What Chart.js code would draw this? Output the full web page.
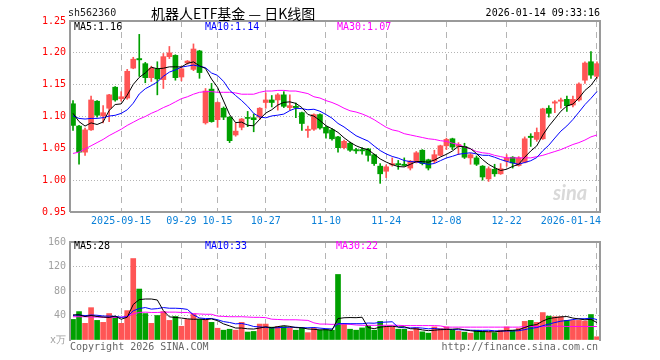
<!DOCTYPE html>
<html>
<head>
<meta charset="utf-8">
<script src="https://cdn.jsdelivr.net/npm/chart.js@4.4.1/dist/chart.umd.min.js"></script>
<style>
  body { margin: 0; width: 660px; height: 360px; overflow: hidden; position: relative; background: #fff;
         font-family: "DejaVu Sans Mono", monospace; font-size: 10px; }
  canvas { position: absolute; left: 0; }
  .t { position: absolute; white-space: nowrap; line-height: 12px; z-index: 2; }
</style>
</head>
<body>
<canvas id="kline" width="660" height="232" style="top:0"></canvas>
<canvas id="vol" width="660" height="128" style="top:232px"></canvas>

<div class="t" style="left:68px;top:7px;color:#222">sh562360</div>
<div class="t" style="left:151px;top:4px;line-height:18px;font-family:'Noto Sans CJK SC';font-size:14px;color:#000">机器人ETF基金 — 日K线图</div>
<div class="t" style="right:60px;top:7px;color:#000">2026-01-14 09:33:16</div>

<div class="t" style="left:74px;top:21px;color:#000">MA5:1.16</div>
<div class="t" style="left:205px;top:21px;color:#0000ff">MA10:1.14</div>
<div class="t" style="left:337px;top:21px;color:#ff00ff">MA30:1.07</div>

<div class="t" style="left:74px;top:240px;color:#000">MA5:28</div>
<div class="t" style="left:205px;top:240px;color:#0000ff">MA10:33</div>
<div class="t" style="left:336px;top:240px;color:#ff00ff">MA30:22</div>

<div class="t" style="left:70px;top:341px;color:#666">Copyright 2026 SINA.COM</div>
<div class="t" style="right:62px;top:341px;color:#666">http://finance.sina.com.cn</div>
<div class="t" style="left:553px;top:180px;line-height:20px;font:italic bold 20px Lato;color:#d9d9d9">sina</div>

<script>
// trading days shown
const dates = [
  '2025-09-03','2025-09-04','2025-09-05','2025-09-08','2025-09-09','2025-09-10','2025-09-11','2025-09-12',
  '2025-09-15','2025-09-16','2025-09-17','2025-09-18','2025-09-19','2025-09-22','2025-09-23','2025-09-24','2025-09-25','2025-09-26',
  '2025-09-29','2025-09-30','2025-10-09','2025-10-10','2025-10-13','2025-10-14',
  '2025-10-15','2025-10-16','2025-10-17','2025-10-20','2025-10-21','2025-10-22','2025-10-23','2025-10-24',
  '2025-10-27','2025-10-28','2025-10-29','2025-10-30','2025-10-31','2025-11-03','2025-11-04','2025-11-05','2025-11-06','2025-11-07',
  '2025-11-10','2025-11-11','2025-11-12','2025-11-13','2025-11-14','2025-11-17','2025-11-18','2025-11-19','2025-11-20','2025-11-21',
  '2025-11-24','2025-11-25','2025-11-26','2025-11-27','2025-11-28','2025-12-01','2025-12-02','2025-12-03','2025-12-04','2025-12-05',
  '2025-12-08','2025-12-09','2025-12-10','2025-12-11','2025-12-12','2025-12-15','2025-12-16','2025-12-17','2025-12-18','2025-12-19',
  '2025-12-22','2025-12-23','2025-12-24','2025-12-25','2025-12-26','2025-12-29','2025-12-30','2025-12-31',
  '2026-01-05','2026-01-06','2026-01-07','2026-01-08','2026-01-09','2026-01-12','2026-01-13','2026-01-14'
];

const tickDates = ['2025-09-15','2025-09-29','2025-10-15','2025-10-27','2025-11-10','2025-11-24','2025-12-08','2025-12-22','2026-01-14'];
const tickText  = ['2025-09-15','09-29','10-15','10-27','11-10','11-24','12-08','12-22','2026-01-14'];

const opens = [1.120,1.085,1.044,1.079,1.124,1.101,1.113,1.146,1.128,1.129,
  1.176,1.191,1.183,1.161,1.175,1.158,1.194,1.196,1.162,1.184,
  1.174,1.203,1.090,1.143,1.095,1.113,1.099,1.071,1.083,1.098,
  1.098,1.099,1.122,1.126,1.126,1.134,1.114,1.116,1.106,1.078,
  1.080,1.103,1.083,1.079,1.068,1.051,1.058,1.048,1.048,1.049,
  1.040,1.022,1.014,1.024,1.026,1.025,1.019,1.028,1.047,1.032,
  1.030,1.039,1.054,1.065,1.053,1.053,1.035,1.035,1.022,1.002,
  1.017,1.010,1.030,1.036,1.023,1.028,1.069,1.064,1.065,1.113,
  1.121,1.124,1.127,1.118,1.126,1.157,1.186,1.163];
const highs = [1.125,1.086,1.082,1.132,1.125,1.117,1.135,1.147,1.139,1.174,
  1.193,1.229,1.185,1.179,1.186,1.199,1.210,1.197,1.179,1.188,
  1.214,1.204,1.144,1.152,1.123,1.115,1.100,1.090,1.097,1.108,
  1.104,1.114,1.137,1.133,1.136,1.139,1.134,1.121,1.107,1.085,
  1.104,1.104,1.085,1.081,1.069,1.063,1.060,1.050,1.051,1.050,
  1.041,1.026,1.024,1.035,1.031,1.035,1.031,1.045,1.048,1.033,
  1.047,1.055,1.066,1.066,1.059,1.058,1.042,1.038,1.023,1.021,
  1.025,1.026,1.040,1.037,1.037,1.068,1.073,1.082,1.113,1.117,
  1.125,1.129,1.132,1.132,1.153,1.186,1.202,1.186];
const lows = [1.078,1.025,1.039,1.078,1.099,1.090,1.092,1.124,1.124,1.127,
  1.175,1.163,1.153,1.155,1.134,1.144,1.191,1.157,1.156,1.182,
  1.172,1.160,1.088,1.091,1.083,1.095,1.059,1.069,1.079,1.084,
  1.076,1.095,1.113,1.115,1.110,1.114,1.110,1.098,1.078,1.067,
  1.078,1.080,1.066,1.063,1.044,1.049,1.045,1.042,1.041,1.030,
  1.023,0.995,1.004,1.022,1.017,1.022,1.016,1.027,1.024,1.016,
  1.027,1.038,1.048,1.048,1.040,1.034,1.025,1.023,1.000,0.998,
  1.006,1.009,1.022,1.019,1.022,1.027,1.053,1.061,1.064,1.099,
  1.106,1.113,1.108,1.115,1.124,1.152,1.160,1.160];
const closes = [1.086,1.044,1.079,1.126,1.102,1.106,1.134,1.126,1.131,1.171,
  1.190,1.189,1.161,1.176,1.159,1.194,1.200,1.161,1.175,1.187,
  1.206,1.169,1.140,1.092,1.122,1.099,1.062,1.077,1.096,1.097,
  1.095,1.113,1.126,1.122,1.134,1.116,1.117,1.114,1.089,1.080,
  1.103,1.082,1.074,1.065,1.051,1.061,1.047,1.046,1.046,1.039,
  1.026,1.010,1.021,1.026,1.024,1.023,1.030,1.043,1.026,1.019,
  1.040,1.054,1.064,1.052,1.056,1.036,1.040,1.025,1.005,1.018,
  1.010,1.018,1.035,1.027,1.035,1.065,1.067,1.075,1.112,1.105,
  1.123,1.126,1.117,1.127,1.151,1.184,1.165,1.183];
// closes of the 9 sessions before the window (estimated from MA lines)
const closesBefore = [1.084,1.089,1.116,1.102,1.094,1.109,1.114,1.101,1.115];
// MA30 of price
const ma30 = [1.042,1.044,1.049,1.054,1.059,1.064,1.070,1.075,1.080,1.086,
  1.091,1.096,1.100,1.105,1.109,1.114,1.118,1.123,1.128,1.131,
  1.135,1.138,1.139,1.139,1.138,1.138,1.138,1.137,1.135,1.135,
  1.135,1.138,1.140,1.140,1.141,1.141,1.140,1.140,1.138,1.136,
  1.131,1.129,1.125,1.122,1.118,1.113,1.109,1.107,1.104,1.100,
  1.095,1.089,1.083,1.079,1.077,1.073,1.071,1.069,1.067,1.065,
  1.064,1.062,1.061,1.058,1.056,1.052,1.049,1.045,1.043,1.042,
  1.039,1.037,1.035,1.035,1.035,1.035,1.035,1.037,1.039,1.042,
  1.045,1.048,1.052,1.056,1.059,1.063,1.068,1.071];

// volume, 万手
const volumes = [33.6,46.4,27.2,52.8,32,28.8,43.2,38.4,27.2,48,
  133,83.2,43.2,27.2,40,46.4,32,38.4,22.4,33.6,
  42.7,33.6,33.6,28.8,19.2,16,17.6,16,28.8,13,
  14,26,26,21,22,22,20,16,20,12,
  19,16,17,16,107,25.6,17.6,16,19.7,22.9,
  16,30.4,21.3,21.3,17.6,17.6,14.4,19.7,13.3,11.2,
  21.3,18.7,21.3,16,14.4,12.8,11.2,16,14.4,13.3,
  12,16,21.3,16,18.7,30.4,32,28.8,44.8,39,
  38,38,32,32,32,31,41.6,5.3];
const volumesBefore = [38,40,42,36,41,45,42,44,40];
const volMa30 = [38,38,38,37.5,37.5,37,37,37,37.5,38.5,
  42.5,45,45.5,45,45,45.5,45.5,45.5,45,45,
  43,42.5,42,42,39,38.5,38,38,38,37.5,
  37,37,36.5,34,33.5,33,33,33,32.5,32,
  28,26,26,25.5,26,26,25.5,24.5,24,24,
  24,24,24,24,24,23.5,23.5,23.5,23.5,23.5,
  23.5,23,21,21,21,21,21,21,21,21,
  21,21,21,21,21,22,22,22,22,22.5,
  22.5,22.5,22,22,22,22,22,22];

const RED = '#ff5555';
const GREEN = '#00a000';
const MONO = '"DejaVu Sans Mono", monospace';

function movingAvg(vals, before, n) {
  const all = before.concat(vals);
  return vals.map((v, i) => {
    const end = i + before.length + 1;
    const win = all.slice(end - n, end);
    return win.reduce((s, x) => s + x, 0) / win.length;
  });
}

const candleColors = closes.map((c, i) => (c >= opens[i] ? RED : GREEN));
const tickIdx = tickDates.map(d => dates.indexOf(d));

// box around the plot area
const frame = {
  id: 'frame',
  afterDatasetsDraw(chart, args, opts) {
    const { ctx, chartArea: a } = chart;
    ctx.save();
    ctx.strokeStyle = '#9a9a9a';
    ctx.lineWidth = 2;
    ctx.beginPath();
    ctx.moveTo(a.left, opts.bottom ? a.bottom : a.bottom + 1);
    ctx.lineTo(a.left, a.top);
    ctx.lineTo(a.right, a.top);
    ctx.lineTo(a.right, opts.bottom ? a.bottom : a.bottom + 1);
    if (opts.bottom) ctx.lineTo(a.left, a.bottom);
    ctx.stroke();
    ctx.restore();
  }
};

const dateLabels = {
  id: 'dateLabels',
  afterDraw(chart) {
    const { ctx, chartArea: a } = chart;
    const x = chart.scales.x;
    ctx.save();
    ctx.font = '10px ' + MONO;
    ctx.fillStyle = '#0a80d8';
    ctx.textBaseline = 'middle';
    tickIdx.forEach((idx, k) => {
      const last = k === tickIdx.length - 1;
      ctx.textAlign = last ? 'right' : 'center';
      ctx.fillText(tickText[k], last ? a.right + 1 : x.getPixelForValue(idx), a.bottom + 9);
    });
    ctx.restore();
  }
};

function xScale(h) {
  return {
    offset: true,
    ticks: { display: false, autoSkip: false },
    grid: {
      offset: false,
      drawTicks: false,
      color: c => (tickIdx.includes(c.index) ? '#b4b4b4' : 'rgba(0,0,0,0)')
    },
    border: { display: false, dash: [6, 5] },
    afterFit: s => { s.height = h; }
  };
}

const common = {
  responsive: false,
  animation: false,
  events: [],
  plugins: { legend: { display: false }, tooltip: { enabled: false } }
};

new Chart(document.getElementById('kline'), {
  type: 'bar',
  data: {
    labels: dates,
    datasets: [
      { type: 'line', data: movingAvg(closes, closesBefore, 5), borderColor: '#000', borderWidth: 1, pointRadius: 0, order: 0 },
      { type: 'line', data: movingAvg(closes, closesBefore, 10), borderColor: '#0000ff', borderWidth: 1, pointRadius: 0, order: 0 },
      { type: 'line', data: ma30, borderColor: '#ff00ff', borderWidth: 1, pointRadius: 0, order: 0 },
      { data: opens.map((o, i) => [o, closes[i]]), backgroundColor: candleColors, barThickness: 5, minBarLength: 1, grouped: false, order: 1 },
      { data: lows.map((l, i) => [l, highs[i]]), backgroundColor: candleColors, barThickness: 1, grouped: false, order: 2 }
    ]
  },
  options: {
    ...common,
    layout: { padding: { top: 21, right: 60, left: 0, bottom: 0 } },
    scales: {
      x: xScale(20),
      y: {
        min: 0.95, max: 1.25,
        ticks: { stepSize: 0.05, color: '#ff0000', padding: 4, font: { family: MONO, size: 10 }, callback: v => v.toFixed(2) },
        grid: { drawTicks: false, color: c => (c.tick && c.tick.value > 0.96 && c.tick.value < 1.24 ? '#b4b4b4' : 'rgba(0,0,0,0)') },
        border: { display: false, dash: [1, 2] },
        afterFit: s => { s.width = 70; }
      }
    },
    plugins: { ...common.plugins, frame: { bottom: true } }
  },
  plugins: [frame, dateLabels]
});

new Chart(document.getElementById('vol'), {
  type: 'bar',
  data: {
    labels: dates,
    datasets: [
      { type: 'line', data: movingAvg(volumes, volumesBefore, 5), borderColor: '#000', borderWidth: 1, pointRadius: 0, order: 0 },
      { type: 'line', data: movingAvg(volumes, volumesBefore, 10), borderColor: '#0000ff', borderWidth: 1, pointRadius: 0, order: 0 },
      { type: 'line', data: volMa30, borderColor: '#ff00ff', borderWidth: 1, pointRadius: 0, order: 0 },
      { data: volumes, backgroundColor: candleColors, barThickness: 5, order: 1 }
    ]
  },
  options: {
    ...common,
    layout: { padding: { top: 8, right: 60, left: 0, bottom: 0 } },
    scales: {
      x: xScale(20),
      y: {
        min: 0, max: 160,
        ticks: { stepSize: 40, color: '#a0a0a0', padding: 4, font: { family: MONO, size: 10 }, callback: v => (v === 0 ? 'x万' : v) },
        grid: { drawTicks: false, color: c => (c.tick && c.tick.value > 0 && c.tick.value < 160 ? '#b4b4b4' : 'rgba(0,0,0,0)') },
        border: { display: false, dash: [1, 2] },
        afterFit: s => { s.width = 70; }
      }
    },
    plugins: { ...common.plugins, frame: { bottom: false } }
  },
  plugins: [frame]
});
</script>
</body>
</html>
